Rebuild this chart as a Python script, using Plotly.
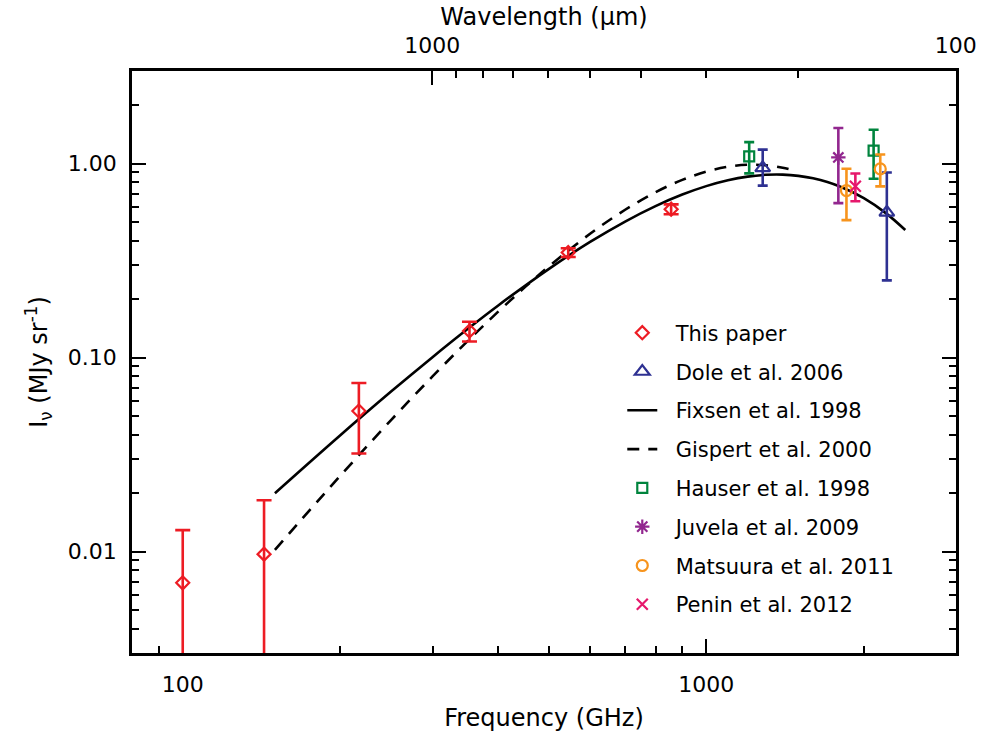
import math
import plotly.graph_objects as go

# ---------------- data ----------------
paper_freq = [100, 143, 217, 353, 545, 857]
paper_I = [0.0069, 0.0097, 0.053, 0.137, 0.348, 0.582]
paper_err = [0.0060, 0.0087, 0.021, 0.016, 0.018, 0.034]

dole_freq = [1282, 2213]
dole_I = [0.95, 0.56]
dole_err_plus = [0.23, 0.34]
dole_err_minus = [0.18, 0.31]

fixsen_freq = [150, 200, 250, 300, 350, 400, 500, 600, 700, 800, 900, 1000,
               1100, 1200, 1300, 1400, 1500, 1600, 1800, 2000, 2200, 2400]
fixsen_I = [0.0200, 0.0398, 0.0668, 0.1005, 0.1403, 0.1851, 0.2859, 0.3944,
            0.5026, 0.6037, 0.6923, 0.7651, 0.8199, 0.8564, 0.8749, 0.8769,
            0.8643, 0.8394, 0.7620, 0.6629, 0.5569, 0.4545]

gispert_freq = [150, 175, 200, 250, 300, 350, 400, 450, 500, 600, 700, 800,
                900, 1000, 1100, 1200, 1300, 1400, 1460]
gispert_I = [0.0102, 0.0164, 0.0246, 0.0476, 0.0799, 0.1215, 0.1719, 0.2300,
             0.2942, 0.4345, 0.5780, 0.7113, 0.8237, 0.9084, 0.9624, 0.9854,
             0.9805, 0.9516, 0.925]

hauser_freq = [1208, 2088]
hauser_I = [1.09, 1.165]
hauser_err = [0.20, 0.33]

juvela_freq = [1788]
juvela_I = [1.075]
juvela_err = [0.45]

matsuura_freq = [1853, 2150]
matsuura_I = [0.726, 0.938]
matsuura_err = [0.215, 0.175]

penin_freq = [1927]
penin_I = [0.764]
penin_err = [0.125]

# axis ticks
x_major = [100, 1000]
x_minor = [90, 200, 300, 400, 500, 600, 700, 800, 900, 2000]
y_major = [0.01, 0.1, 1.0]
y_major_text = ["0.01", "0.10", "1.00"]
y_minor = [0.004, 0.005, 0.006, 0.007, 0.008, 0.009,
           0.02, 0.03, 0.04, 0.05, 0.06, 0.07, 0.08, 0.09,
           0.2, 0.3, 0.4, 0.5, 0.6, 0.7, 0.8, 0.9, 2.0]
wl_major = [1000, 100]
wl_minor = [900, 800, 700, 600, 500, 400, 300, 200]
C_UM_GHZ = 299792.458  # c in um*GHz

RED = "#ED1C24"
NAVY = "#2E3192"
GREEN = "#00843D"
PURPLE = "#92278F"
ORANGE = "#F7941D"
PINK = "#E6186C"
FONT = "DejaVu Sans"
PAD = "\u00a0\u00a0"

fig = go.Figure()

# helper (empty) trace so that the top wavelength axis is drawn
fig.add_trace(go.Scatter(x=[None], y=[None], xaxis="x2", yaxis="y",
                         showlegend=False, hoverinfo="skip", mode="markers"))

fig.add_trace(go.Scatter(x=fixsen_freq, y=fixsen_I, mode="lines", name=PAD + "Fixsen et al. 1998",
                         line=dict(color="black", width=2.6, shape="spline"),
                         legendrank=3, legendgroup="c"))
fig.add_trace(go.Scatter(x=gispert_freq, y=gispert_I, mode="lines", name=PAD + "Gispert et al. 2000",
                         line=dict(color="black", width=2.6, dash="12px,9px", shape="spline"),
                         legendrank=4, legendgroup="d"))


def pts(x, y, name, color, symbol, size, plus, minus, cap, rank, grp):
    fig.add_trace(go.Scatter(
        x=x, y=y, mode="markers", name=PAD + name,
        marker=dict(symbol=symbol, size=size, color=color,
                    line=dict(color=color, width=2.2)),
        error_y=dict(type="data", array=plus, arrayminus=minus, color=color,
                     thickness=2.6, width=cap, visible=True),
        legendrank=rank, legendgroup=grp))


pts(paper_freq, paper_I, "This paper", RED, "diamond-open", 10, paper_err, paper_err, 7.5, 1, "a")
pts(dole_freq, dole_I, "Dole et al. 2006", NAVY, "triangle-up-open", 13, dole_err_plus, dole_err_minus, 5, 2, "b")
pts(hauser_freq, hauser_I, "Hauser et al. 1998", GREEN, "square-open", 10, hauser_err, hauser_err, 5, 5, "e")
pts(juvela_freq, juvela_I, "Juvela et al. 2009", PURPLE, "asterisk-open", 12, juvela_err, juvela_err, 5, 6, "f")
pts(matsuura_freq, matsuura_I, "Matsuura et al. 2011", ORANGE, "circle-open", 11, matsuura_err, matsuura_err, 5, 7, "g")
pts(penin_freq, penin_I, "Penin et al. 2012", PINK, "x-thin-open", 11, penin_err, penin_err, 5, 8, "h")

xr = [math.log10(80), math.log10(3000)]
yr = [math.log10(0.003), math.log10(3)]

fig.update_layout(
    width=982, height=736,
    margin=dict(l=132, r=26, t=71, b=83, autoexpand=False),
    plot_bgcolor="white", paper_bgcolor="white",
    font=dict(family=FONT, color="black", size=22),
    showlegend=True,
    legend=dict(x=0.595, y=0.585, xanchor="left", yanchor="top",
                bgcolor="rgba(0,0,0,0)", font=dict(family=FONT, size=21),
                tracegroupgap=8.5, itemwidth=30),
    xaxis=dict(type="log", range=xr, showgrid=False, zeroline=False,
               showline=True, linecolor="black", linewidth=2.5, mirror=False,
               layer="below traces", automargin=False,
               ticks="inside", ticklen=14, tickwidth=2, tickcolor="black",
               tickmode="array", tickvals=x_major, ticktext=[str(v) for v in x_major],
               ticklabelstandoff=10,
               tickfont=dict(size=22),
               minor=dict(tickmode="array", tickvals=x_minor, ticks="inside",
                          ticklen=7, tickwidth=2, tickcolor="black", showgrid=False),
               title=dict(text="Frequency (GHz)", font=dict(size=24), standoff=14)),
    xaxis2=dict(type="log", range=xr, overlaying="x", side="top", anchor="y",
                showgrid=False, zeroline=False, layer="below traces", automargin=False,
                showline=True, linecolor="black", linewidth=2.5,
                ticks="inside", ticklen=14, tickwidth=2, tickcolor="black",
                tickmode="array", tickvals=[C_UM_GHZ / w for w in wl_major],
                ticktext=[str(w) for w in wl_major], tickfont=dict(size=22),
                ticklabelstandoff=6,
                minor=dict(tickmode="array", tickvals=[C_UM_GHZ / w for w in wl_minor],
                           ticks="inside", ticklen=7, tickwidth=2, tickcolor="black",
                           showgrid=False),
                title=dict(text="Wavelength (\u03bcm)", font=dict(size=24), standoff=2)),
    yaxis=dict(type="log", range=yr, showgrid=False, zeroline=False,
               showline=True, linecolor="black", linewidth=2.5, mirror="ticks",
               layer="below traces", automargin=False,
               ticks="inside", ticklen=14, tickwidth=2, tickcolor="black",
               tickmode="array", tickvals=y_major, ticktext=y_major_text,
               tickfont=dict(size=22), ticklabelstandoff=8,
               minor=dict(tickmode="array", tickvals=y_minor, ticks="inside",
                          ticklen=7, tickwidth=2, tickcolor="black", showgrid=False),
               title=dict(text="I<sub>\u03bd</sub> (MJy sr<sup>-1</sup>)",
                          font=dict(size=24), standoff=14)),
)

fig.write_html("out.html")
